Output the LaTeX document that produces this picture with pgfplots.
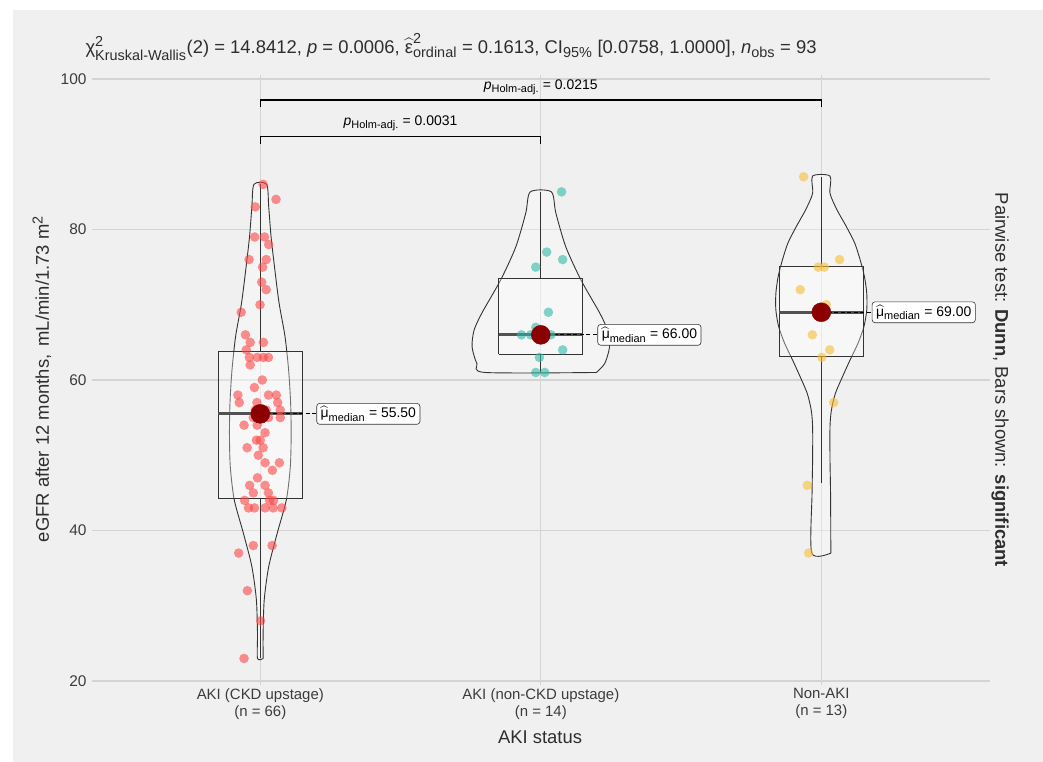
\documentclass[border=0pt]{standalone}
\usepackage{amsmath}
\usepackage{pgfplots}
\pgfplotsset{compat=1.18}
\usepackage{fontspec}
\setmainfont{Liberation Sans}

% larger sub- and superscripts, as in the statistics annotations
\DeclareMathSizes{18.5}{18.5}{14.5}{11}
\DeclareMathSizes{14}{14}{11}{8}
\DeclareMathSizes{13.5}{13.5}{10.5}{8}

\definecolor{panelbg}{HTML}{F0F0F0}
\definecolor{gridgray}{HTML}{D4D4D4}
\definecolor{tickgray}{HTML}{3C3C3C}
\definecolor{titlegray}{HTML}{2E2E2E}
\definecolor{boxgray}{HTML}{333333}
\definecolor{ckdred}{RGB}{253,70,70}
\definecolor{nonckdteal}{RGB}{50,185,167}
\definecolor{nonakiyellow}{RGB}{248,190,52}
\definecolor{medianred}{HTML}{8B0000}

\tikzset{
  violin/.style={draw=boxgray, line width=0.9bp, fill=white, fill opacity=0.3, smooth, tension=0.45},
  boxst/.style={draw=boxgray, line width=1.1bp, fill=white, fill opacity=0.3},
  whisk/.style={draw=boxgray, line width=1.1bp},
  medline/.style={draw=boxgray!85, line width=2.8bp},
  lbl/.style={draw=boxgray, line width=0.6bp, rounded corners=3bp, fill=white, anchor=west,
              inner xsep=4bp, inner ysep=3bp, font=\fontsize{14}{16}\selectfont, text=black},
  leader/.style={black, line width=1bp, dash pattern=on 4bp off 2.5bp},
}

% eGFR values per group (x = jittered position, y = eGFR)
\pgfplotstableread{
x y
1.010 86
1.056 84
0.982 83
0.980 79
1.015 79
1.030 78
0.960 76
1.021 76
1.008 75
1.005 73
1.021 72
0.999 70
0.932 69
0.947 66
0.964 65
1.011 65
0.950 64
0.961 63
0.989 63
1.011 63
1.029 63
0.964 62
1.007 60
0.979 59
0.920 58
1.057 58
1.029 58
0.925 57
0.988 57
1.062 57
1.071 56
0.982 56
1.021 56
1.071 55
0.975 55
1.029 55
0.942 54
0.989 54
1.017 53
0.986 52
1.000 52
0.953 51
1.010 51
0.993 50
1.017 49
1.068 49
1.043 48
0.990 47
0.962 46
1.017 46
1.029 45
0.975 45
0.944 44
1.033 44
1.047 44
0.958 43
0.979 43
1.017 43
1.046 43
1.077 43
0.975 38
1.042 38
0.923 37
0.954 32
1.001 28
0.942 23
}\ckd

\pgfplotstableread{
x y
2.074 85
2.021 77
2.078 76
1.982 75
2.027 69
1.982 67
1.931 66
1.964 66
2.018 66
2.036 66
2.078 64
1.995 63
1.982 61
2.014 61
}\nonckd

\pgfplotstableread{
x y
2.937 87
3.065 76
2.989 75
3.011 75
2.925 72
3.018 70
3.000 69
2.968 66
3.030 64
3.002 63
3.044 57
2.950 46
2.955 37
}\nonaki

\begin{document}
\begin{tikzpicture}[x=1bp,y=1bp]
% page background and grey plot panel
\fill[white] (-92,-77) rectangle (951,685);
\fill[panelbg] (-79,-77) rectangle (951,675);

\begin{axis}[
  at={(0,0)}, anchor=south west,
  scale only axis, width=897.6bp, height=610bp,
  xmin=0.4, xmax=3.6, ymin=19.47, ymax=100.53,
  clip=false,
  axis line style={draw=none},
  major tick length=0pt,
  xtick={1,2,3},
  xticklabels={{AKI (CKD upstage)\\(n = 66)},{AKI (non-CKD upstage)\\(n = 14)},{Non-AKI\\(n = 13)}},
  ytick={20,40,60,80,100},
  grid=major,
  major grid style={draw=gridgray, line width=1.2bp},
  /pgf/number format/assume math mode=true,
  tick label style={text=tickgray},
  xticklabel style={align=center, font=\fontsize{15}{17}\selectfont, yshift=0bp},
  yticklabel style={font=\fontsize{15.5}{17}\selectfont, xshift=-2bp},
]

% violins
\addplot[violin] coordinates {
 (1.010,23.0) (1.010,26.3) (1.014,30.8) (1.030,35.2) (1.060,39.6) (1.093,44.1)
 (1.107,48.5) (1.110,52.9) (1.108,57.0) (1.101,61.3) (1.088,65.8) (1.067,70.2)
 (1.052,74.6) (1.0385,79.0) (1.030,83.0) (1.0225,86.0)
 (0.9775,86.0) (0.970,83.0) (0.9615,79.0) (0.948,74.6) (0.933,70.2) (0.912,65.8)
 (0.899,61.3) (0.892,57.0) (0.890,52.9) (0.893,48.5) (0.907,44.1) (0.940,39.6)
 (0.970,35.2) (0.986,30.8) (0.990,26.3) (0.990,23.0) (1.010,23.0)};
\addplot[violin] coordinates {
 (2.198,61.0) (2.228,62.2) (2.245,64.4) (2.238,66.6) (2.210,68.9) (2.143,73.3)
 (2.089,77.7) (2.0535,82.2) (2.0374,85.0)
 (1.9626,85.0) (1.9465,82.2) (1.911,77.7) (1.857,73.3) (1.790,68.9) (1.762,66.6)
 (1.755,64.4) (1.772,62.2) (1.802,61.0) (2.198,61.0)};
\addplot[violin] coordinates {
 (3.034,37.0) (3.033,44.9) (3.031,49.4) (3.031,53.8) (3.036,56.0) (3.050,58.2)
 (3.075,60.4) (3.103,62.7) (3.131,64.9) (3.152,67.1) (3.162,69.3) (3.162,71.5)
 (3.154,73.7) (3.139,75.9) (3.119,78.2) (3.089,80.4) (3.056,82.6) (3.031,84.8) (3.031,87.1)
 (2.969,87.1) (2.969,84.8) (2.944,82.6) (2.911,80.4) (2.881,78.2) (2.861,75.9)
 (2.846,73.7) (2.838,71.5) (2.838,69.3) (2.848,67.1) (2.869,64.9) (2.897,62.7)
 (2.925,60.4) (2.950,58.2) (2.964,56.0) (2.969,53.8) (2.969,49.4) (2.967,44.9)
 (2.966,37.0) (3.034,37.0)};

% box plots: boxes, whiskers, medians
\addplot[boxst] coordinates {(0.85,44.3) (1.15,44.3) (1.15,63.8) (0.85,63.8) (0.85,44.3)};
\addplot[whisk] coordinates {(1,63.8) (1,86)};
\addplot[whisk] coordinates {(1,23) (1,44.3)};
\addplot[medline] coordinates {(0.85,55.5) (1.15,55.5)};

\addplot[boxst] coordinates {(1.85,63.4) (2.15,63.4) (2.15,73.5) (1.85,73.5) (1.85,63.4)};
\addplot[whisk] coordinates {(2,73.5) (2,85)};
\addplot[whisk] coordinates {(2,61) (2,63.4)};
\addplot[medline] coordinates {(1.85,66) (2.15,66)};

\addplot[boxst] coordinates {(2.85,63.1) (3.15,63.1) (3.15,75.1) (2.85,75.1) (2.85,63.1)};
\addplot[whisk] coordinates {(3,75.1) (3,87)};
\addplot[whisk] coordinates {(3,46.3) (3,63.1)};
\addplot[medline] coordinates {(2.85,69) (3.15,69)};

% observations
\addplot[only marks, mark=*, mark size=4.8bp, draw opacity=0, fill opacity=0.6, fill=ckdred]
  table[x=x, y=y] {\ckd};
\addplot[only marks, mark=*, mark size=4.8bp, draw opacity=0, fill opacity=0.6, fill=nonckdteal]
  table[x=x, y=y] {\nonckd};
\addplot[only marks, mark=*, mark size=4.8bp, draw opacity=0, fill opacity=0.6, fill=nonakiyellow]
  table[x=x, y=y] {\nonaki};

% dashed leaders to the median labels
\addplot[leader] coordinates {(1,55.5) (1.2,55.5)};
\addplot[leader] coordinates {(2,66) (2.202,66)};
\addplot[leader] coordinates {(3,69) (3.18,69)};

% group medians
\addplot[only marks, mark=*, mark size=9.5bp, draw=medianred, fill=medianred]
  coordinates {(1,55.5) (2,66) (3,69)};

\node[lbl] at (axis cs:1.2,55.5) {$\widehat{\text{μ}}_{\text{median}}$ = 55.50};
\node[lbl] at (axis cs:2.202,66) {$\widehat{\text{μ}}_{\text{median}}$ = 66.00};
\node[lbl] at (axis cs:3.18,69) {$\widehat{\text{μ}}_{\text{median}}$ = 69.00};

% pairwise comparison brackets
\addplot[black, line width=1.1bp] coordinates {(1,91.3) (1,92.3) (2,92.3) (2,91.3)};
\addplot[black, line width=1.1bp] coordinates {(1,96.3) (1,97.2) (3,97.2) (3,96.3)};
\node[font=\fontsize{14}{16}\selectfont, text=black] at (axis cs:1.5,94.15)
  {\textit{p}$_{\text{Holm-adj.}}$ = 0.0031};
\node[font=\fontsize{14}{16}\selectfont, text=black] at (axis cs:2,98.95)
  {\textit{p}$_{\text{Holm-adj.}}$ = 0.0215};
\end{axis}

% titles and axis labels
\node[anchor=west, font=\fontsize{18.5}{21}\selectfont, text=titlegray] at (-10,638)
  {$\text{χ}^{\text{2}}_{\text{Kruskal-Wallis}}$(2) = 14.8412, \textit{p} = 0.0006, $\widehat{\text{ε}}^{\text{2}}_{\text{ordinal}}$ = 0.1613, CI$_{\text{95\%}}$ [0.0758, 1.0000], \textit{n}$_{\text{obs}}$ = 93};
\node[rotate=90, font=\fontsize{18.5}{21}\selectfont, text=titlegray] at (-50,306)
  {eGFR after 12 months,\, mL/min/1.73 m$^{\text{2}}$};
\node[font=\fontsize{18.5}{21}\selectfont, text=titlegray] at (448,-52) {AKI status};
\node[rotate=-90, font=\fontsize{18.5}{21}\selectfont, text=titlegray] at (908,305)
  {Pairwise test: \textbf{Dunn}, Bars shown: \textbf{significant}};

\pgfresetboundingbox
\useasboundingbox (-92,-77) rectangle (951,685);
\end{tikzpicture}
\end{document}
